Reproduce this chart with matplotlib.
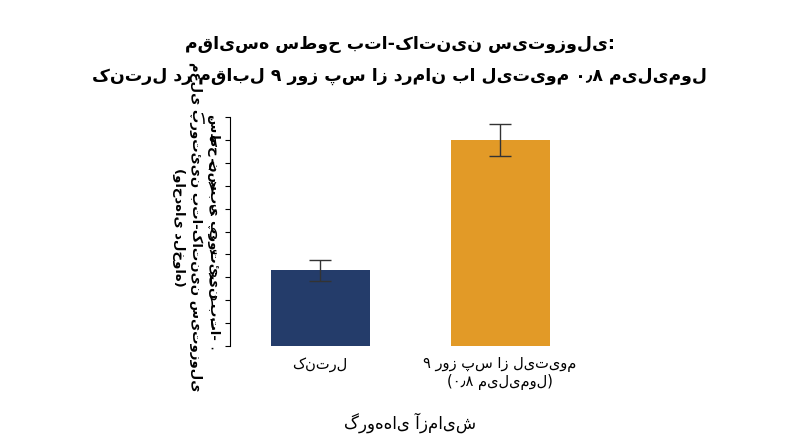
import matplotlib
matplotlib.use("Agg")
import matplotlib.pyplot as plt

categories = ["کنترل", "۹ روز پس از لیتیوم\n(۰٫۸ میلی‌مول)"]
values = [3.3, 9.0]
errors = [0.45, 0.7]
colors = ["#243c6a", "#e29a27"]
yticks = list(range(11))
ytick_labels = ["۰","۱","۲","۳","۴","۵","۶","۷","۸","۹","۱۰"]

plt.rcParams['font.family'] = ['DejaVu Sans']
fig = plt.figure(figsize=(8, 4.47), dpi=100)
ax = fig.add_axes([0.2875, 0.226, 0.45, 0.512])
x = list(range(len(categories)))
ax.bar(x, values, width=0.55, color=colors, yerr=errors, capsize=8,
       error_kw=dict(ecolor="#333333", elinewidth=1, capthick=1))
ax.set_xlim(-0.5, 1.5)
ax.set_ylim(0, 10)
ax.set_yticks(yticks)
ax.set_yticklabels(ytick_labels, fontsize=12)
ax.tick_params(axis='y', pad=6)
ax.set_xticks(x)
ax.set_xticklabels(categories, fontsize=10.5)
ax.tick_params(axis='x', length=0, pad=8)
for s in ["top", "right", "bottom"]:
    ax.spines[s].set_visible(False)
ax.set_xlabel("گروه‌های آزمایش", fontsize=12, labelpad=16)
ax.set_ylabel("سطح نسبی پروتئین بتا-\nمعلی پروتئین بتا-کاتنین سیتوزولی\n(واحدهای دلخواه)",
              fontsize=9.5, fontweight='bold', rotation=270, labelpad=12,
              va='bottom', linespacing=1.4)
ax.yaxis.set_label_coords(-0.16, 0.52)
fig.text(0.5, 0.865, "مقایسه سطوح بتا-کاتنین سیتوزولی:\nکنترل در مقابل ۹ روز پس از درمان با لیتیوم ۰٫۸ میلی‌مول",
         ha='center', va='center', fontsize=12.5, fontweight='bold', linespacing=2.0)
fig.savefig("out.png", dpi=100)
